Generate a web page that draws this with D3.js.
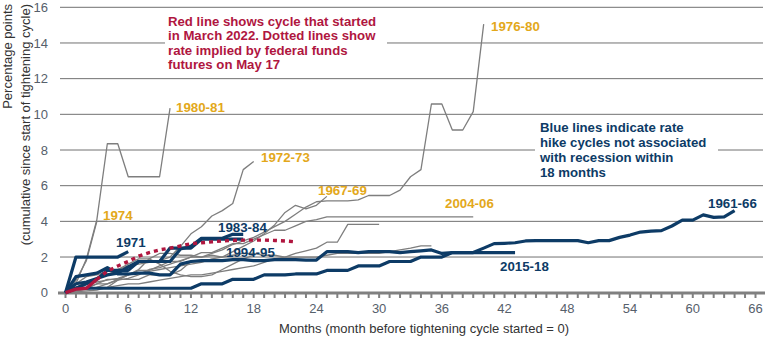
<!DOCTYPE html>
<html>
<head>
<meta charset="utf-8">
<script src="https://cdn.jsdelivr.net/npm/d3@7"></script>
<style>
  body { margin: 0; background: #fff; }
  svg { display: block; }
  text { font-family: "Liberation Sans", Arial, sans-serif; }
</style>
</head>
<body>
<svg id="chart" width="770" height="339"></svg>
<script>
// Axis ticks
const monthTicks = d3.range(0, 67, 6);
const minorMonthTicks = d3.range(0, 67, 1);
const valueTicks = [0, 2, 4, 6, 8, 10, 12, 14, 16];

// Cumulative change in the policy rate, one value per month from the start of each cycle.
// Cycles followed by recession within 18 months (grey)
const c1980_81 = [0, 0.5, 1.9, 4.1, 8.35, 8.35, 6.5, 6.5, 6.5, 6.5, 10.35];
const c1974 = [0, 0.7, 1.8, 4.0, 4.0];
const c1976_80 = [0, 0.1, 0.2, 0.3, 0.5, 0.7, 0.8, 1.0, 1.3, 1.4, 1.6, 1.8, 2.0, 2.0, 2.2, 2.4, 2.7, 2.9, 3.1, 3.4,
  3.7, 4.0, 4.4, 4.8, 5.1, 5.15, 5.15, 5.15, 5.2, 5.45, 5.45, 5.45, 5.75, 6.5, 6.9, 10.58, 10.58, 9.12, 9.12, 10.15, 15.06];
const c1972_73 = [0, 0.5, 0.9, 1.0, 1.2, 1.3, 1.5, 1.6, 1.7, 1.8, 2.0, 2.6, 3.3, 3.7, 4.3, 4.6, 5.0, 6.9, 7.35];
const c1967_69 = [0, 0.05, 0.1, 0.15, 0.3, 0.7, 1.0, 1.3, 1.9, 2.2, 2.2, 2.1, 2.1, 2.0, 2.1, 2.0, 2.3, 2.6, 2.9, 3.3,
  3.8, 4.5, 4.9, 4.7, 4.9, 5.4];
const c2004_06 = [0, 0.25, 0.25, 0.5, 0.75, 0.75, 1.0, 1.25, 1.25, 1.5, 1.75, 1.75, 2.0, 2.25, 2.25, 2.5, 2.75, 2.75,
  3.0, 3.25, 3.5, 3.5, 3.75, 4.0, 4.1, 4.25, 4.25, 4.25, 4.25, 4.25, 4.25, 4.25, 4.25, 4.25, 4.25, 4.25, 4.25, 4.25, 4.25, 4.25];
const c1987_89 = [0, 0.1, 0.2, 0.3, 0.3, 0.4, 0.5, 0.5, 0.6, 0.7, 0.8, 0.9, 1.0, 1.0, 1.1, 1.2, 1.3, 1.4, 1.5, 1.7,
  1.9, 2.0, 2.2, 2.35, 2.5, 2.83, 2.83, 3.83, 3.83, 3.83, 3.83];
const c1958_59 = [0, 0.3, 0.5, 0.6, 0.7, 0.8, 1.0, 1.1, 1.2, 1.3, 1.4, 1.5, 1.6, 1.7, 1.9, 2.0, 2.1, 2.2, 2.2, 2.1,
  2.1, 2.0, 2.0, 2.0, 2.0, 2.1, 2.2, 2.2, 2.2, 2.2, 2.2, 2.3, 2.4, 2.5, 2.63, 2.63];
const c1999_00 = [0, 0.25, 0.25, 0.5, 0.5, 0.75, 0.75, 0.75, 1.0, 1.0, 1.0, 1.25, 1.75, 1.75];
const c1955_57 = [0, 0.3, 0.6, 0.8, 1.0, 1.3, 1.6, 1.9, 1.9, 1.6, 1.2, 1.0, 0.9, 0.9, 1.0, 1.3, 1.6, 1.9, 2.1];

// Cycles not associated with recession within 18 months (blue)
const c1961_66 = [0, 0.9, 1.0, 1.1, 1.4, 1.05, 1.05, 1.1, 1.1, 1.0, 1.0, 1.6, 1.75, 1.8, 1.8, 1.8, 1.85, 1.85, 1.8, 1.8,
  1.85, 1.85, 1.85, 1.83, 1.83, 2.3, 2.3, 2.3, 2.25, 2.3, 2.3, 2.3, 2.25, 2.3, 2.35, 2.4, 2.2, 2.25, 2.25, 2.25,
  2.5, 2.75, 2.77, 2.8, 2.9, 2.92, 2.92, 2.92, 2.92, 2.92, 2.8, 2.92, 2.92, 3.1, 3.23, 3.4, 3.45, 3.48, 3.74, 4.07,
  4.07, 4.36, 4.22, 4.25, 4.6];
const c1971 = [0, 2.0, 2.0, 2.0, 2.0, 2.0, 2.3];
const c1983_84 = [0, 0.5, 0.6, 0.8, 1.0, 1.1, 1.45, 1.75, 1.75, 1.75, 1.75, 2.45, 2.6, 3.05, 3.05, 3.05, 3.27, 3.27];
const c1994_95 = [0, 0.25, 0.5, 0.75, 1.25, 1.25, 1.25, 1.75, 1.75, 1.75, 2.5, 2.5, 2.5, 3.0, 3.0, 3.0, 3.0, 3.0];
const c2015_18 = [0, 0.25, 0.25, 0.25, 0.25, 0.25, 0.25, 0.25, 0.25, 0.25, 0.25, 0.25, 0.25, 0.5, 0.5, 0.5, 0.75, 0.75,
  0.75, 1.0, 1.0, 1.0, 1.05, 1.05, 1.05, 1.25, 1.25, 1.25, 1.5, 1.5, 1.5, 1.75, 1.75, 1.75, 2.0, 2.0, 2.0, 2.25,
  2.25, 2.25, 2.25, 2.25, 2.25, 2.25];

// Cycle that started in March 2022: actual, then futures-implied
const c2022Actual = [0, 0.2, 0.25, 0.75];
const c2022FuturesStart = 3;
const c2022Futures = [0.75, 1.2, 1.5, 1.75, 2.05, 2.25, 2.4, 2.5, 2.62, 2.75, 2.8, 2.85, 2.9, 2.93, 2.95, 2.95, 2.95,
  2.93, 2.9, 2.85];

const greyCycles = [c1999_00, c1955_57, c1958_59, c1987_89, c2004_06, c1967_69, c1972_73, c1976_80, c1974, c1980_81];
const blueCycles = [c2015_18, c1994_95, c1983_84, c1971, c1961_66];

// Cycle labels
const greyLabels = ["1980-81", "1976-80", "1972-73", "1967-69", "2004-06", "1974"];
const greyLabelAt = [[176, 107], [491, 26], [261, 157], [318, 190], [445, 203], [103, 215]];
const blueLabels = ["1971", "1983-84", "1994-95", "2015-18", "1961-66"];
const blueLabelAt = [[116, 242], [218, 227], [226, 252], [500, 266], [708, 203]];

const redNote = ["Red line shows cycle that started", "in March 2022. Dotted lines show",
  "rate implied by federal funds", "futures on May 17"];
const blueNote = ["Blue lines indicate rate", "hike cycles not associated", "with recession within", "18 months"];

const GOLD = "#e3a81b", NAVY = "#0d3b66", RED = "#b0163f", GREY = "#7e7e7e", GRID = "#717171";

const svg = d3.select("#chart");
const x = d3.scaleLinear().domain([0, 66]).range([65.5, 755.5]);
const y = d3.scaleLinear().domain([0, 16]).range([292.7, 7.3]);

// Gridlines
svg.append("g").selectAll("line").data(valueTicks.filter(v => v > 0)).join("line")
  .attr("x1", 60).attr("x2", 763)
  .attr("y1", d => y(d)).attr("y2", d => y(d))
  .attr("stroke", GRID).attr("stroke-width", 1);

// White panels behind the two notes
svg.append("rect").attr("x", 165).attr("y", 12).attr("width", 222).attr("height", 60).attr("fill", "#fff");
svg.append("rect").attr("x", 535).attr("y", 118).attr("width", 183).attr("height", 62).attr("fill", "#fff");

// Y axis labels
svg.append("g").selectAll("text").data(valueTicks).join("text")
  .attr("x", 48).attr("y", d => y(d)).attr("dy", "0.35em")
  .attr("text-anchor", "end").attr("font-size", 13).attr("fill", "#56606b")
  .text(d => d);

// Y axis title
const yt = svg.append("text").attr("transform", "rotate(-90)").attr("text-anchor", "end")
  .attr("font-size", 13).attr("fill", "#333");
yt.append("tspan").attr("x", -4).attr("y", 12).text("Percentage points");
yt.append("tspan").attr("x", -4).attr("y", 30).text("(cumulative since start of tightening cycle)");

// X axis
const xAxis = svg.append("g");
xAxis.append("line").attr("x1", 58).attr("x2", 765).attr("y1", 293).attr("y2", 293)
  .attr("stroke", "#808080").attr("stroke-width", 3);
xAxis.selectAll("line.tick").data(minorMonthTicks).join("line").attr("class", "tick")
  .attr("x1", d => x(d)).attr("x2", d => x(d)).attr("y1", 293).attr("y2", 298)
  .attr("stroke", "#808080").attr("stroke-width", 2);
xAxis.selectAll("text").data(monthTicks).join("text")
  .attr("x", d => x(d)).attr("y", 308).attr("dy", "0.35em")
  .attr("text-anchor", "middle").attr("font-size", 13).attr("fill", "#56606b")
  .text(d => d);
svg.append("text").attr("x", 424).attr("y", 328).attr("dy", "0.35em").attr("text-anchor", "middle")
  .attr("font-size", 13).attr("fill", "#333")
  .text("Months (month before tightening cycle started = 0)");

// Lines
const line = d3.line().x((d, i) => x(i)).y(d => y(d));
const lineFrom = start => d3.line().x((d, i) => x(start + i)).y(d => y(d));

svg.append("g").selectAll("path").data(greyCycles).join("path")
  .attr("d", line).attr("fill", "none").attr("stroke", GREY).attr("stroke-width", 1.3)
  .attr("stroke-linejoin", "round");

svg.append("g").selectAll("path").data(blueCycles).join("path")
  .attr("d", line).attr("fill", "none").attr("stroke", NAVY).attr("stroke-width", 3.2)
  .attr("stroke-linejoin", "round");

svg.append("path").datum(c2022Futures).attr("d", lineFrom(c2022FuturesStart))
  .attr("fill", "none").attr("stroke", RED).attr("stroke-width", 3.4).attr("stroke-dasharray", "4,4");
svg.append("path").datum(c2022Actual).attr("d", line)
  .attr("fill", "none").attr("stroke", RED).attr("stroke-width", 3.4).attr("stroke-linejoin", "round");

// Labels
svg.append("g").selectAll("text").data(greyLabels).join("text")
  .attr("x", (d, i) => greyLabelAt[i][0]).attr("y", (d, i) => greyLabelAt[i][1]).attr("dy", "0.35em")
  .attr("font-size", 13.3).attr("font-weight", "bold").attr("fill", GOLD).text(d => d);
svg.append("g").selectAll("text").data(blueLabels).join("text")
  .attr("x", (d, i) => blueLabelAt[i][0]).attr("y", (d, i) => blueLabelAt[i][1]).attr("dy", "0.35em")
  .attr("font-size", 13.3).attr("font-weight", "bold").attr("fill", NAVY).text(d => d);

// Notes
svg.append("g").selectAll("text").data(redNote).join("text")
  .attr("x", 168).attr("y", (d, i) => 21 + i * 14.5).attr("dy", "0.35em")
  .attr("font-size", 13.2).attr("font-weight", "bold").attr("fill", RED).text(d => d);
svg.append("g").selectAll("text").data(blueNote).join("text")
  .attr("x", 540).attr("y", (d, i) => 127 + i * 15.2).attr("dy", "0.35em")
  .attr("font-size", 13.2).attr("font-weight", "bold").attr("fill", NAVY).text(d => d);
</script>
</body>
</html>
